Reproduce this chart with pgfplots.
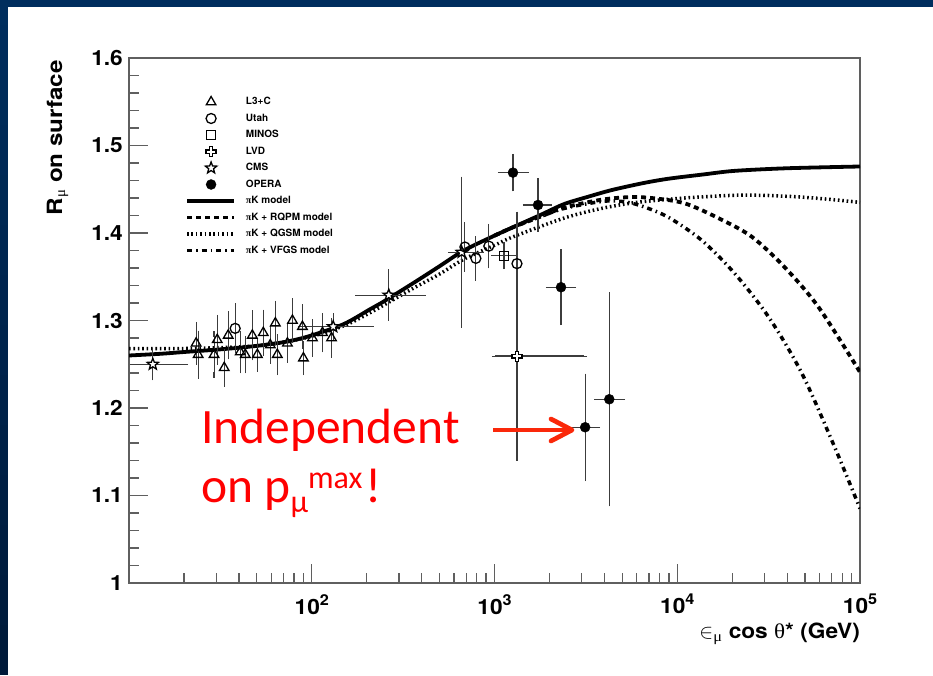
\documentclass[border=0pt]{standalone}
\usepackage{fontspec}
\usepackage{pgfplots}
\usepackage{pgfplotstable}
\pgfplotsset{compat=1.18}

\setmainfont{TeX Gyre Heros}
\newfontfamily\rootbf[FakeStretch=1.08]{TeX Gyre Heros}
\newfontfamily\rootlab[FakeStretch=1.15]{TeX Gyre Heros}
\newfontfamily\greek{Liberation Serif}
\newfontfamily\greekw[FakeStretch=1.1]{Liberation Serif}
\newfontfamily\callout{Carlito}

\definecolor{slideblue}{RGB}{0,46,94}
\definecolor{slideblueD}{RGB}{0,26,58}
\definecolor{annot}{RGB}{255,0,0}
\definecolor{arrowred}{RGB}{250,40,10}
\definecolor{framegray}{RGB}{95,95,95}
\definecolor{errgray}{RGB}{60,60,60}

% open cross marker (LVD)
\pgfdeclareplotmark{ocross}{%
  \pgfpathmoveto{\pgfpoint{0.33\pgfplotmarksize}{\pgfplotmarksize}}%
  \pgfpathlineto{\pgfpoint{0.33\pgfplotmarksize}{0.33\pgfplotmarksize}}%
  \pgfpathlineto{\pgfpoint{\pgfplotmarksize}{0.33\pgfplotmarksize}}%
  \pgfpathlineto{\pgfpoint{\pgfplotmarksize}{-0.33\pgfplotmarksize}}%
  \pgfpathlineto{\pgfpoint{0.33\pgfplotmarksize}{-0.33\pgfplotmarksize}}%
  \pgfpathlineto{\pgfpoint{0.33\pgfplotmarksize}{-\pgfplotmarksize}}%
  \pgfpathlineto{\pgfpoint{-0.33\pgfplotmarksize}{-\pgfplotmarksize}}%
  \pgfpathlineto{\pgfpoint{-0.33\pgfplotmarksize}{-0.33\pgfplotmarksize}}%
  \pgfpathlineto{\pgfpoint{-\pgfplotmarksize}{-0.33\pgfplotmarksize}}%
  \pgfpathlineto{\pgfpoint{-\pgfplotmarksize}{0.33\pgfplotmarksize}}%
  \pgfpathlineto{\pgfpoint{-0.33\pgfplotmarksize}{0.33\pgfplotmarksize}}%
  \pgfpathlineto{\pgfpoint{-0.33\pgfplotmarksize}{\pgfplotmarksize}}%
  \pgfpathclose
  \pgfusepathqfillstroke
}
% open five-pointed star marker (CMS)
\pgfdeclareplotmark{ostar}{%
  \pgfpathmoveto{\pgfpointpolar{90}{\pgfplotmarksize}}%
  \pgfpathlineto{\pgfpointpolar{126}{0.42\pgfplotmarksize}}%
  \pgfpathlineto{\pgfpointpolar{162}{\pgfplotmarksize}}%
  \pgfpathlineto{\pgfpointpolar{198}{0.42\pgfplotmarksize}}%
  \pgfpathlineto{\pgfpointpolar{234}{\pgfplotmarksize}}%
  \pgfpathlineto{\pgfpointpolar{270}{0.42\pgfplotmarksize}}%
  \pgfpathlineto{\pgfpointpolar{306}{\pgfplotmarksize}}%
  \pgfpathlineto{\pgfpointpolar{342}{0.42\pgfplotmarksize}}%
  \pgfpathlineto{\pgfpointpolar{18}{\pgfplotmarksize}}%
  \pgfpathlineto{\pgfpointpolar{54}{0.42\pgfplotmarksize}}%
  \pgfpathclose
  \pgfusepathqfillstroke
}

% measurements: energy (GeV), charge ratio, errors
\pgfplotstableread{
E      R      ye
23.3   1.274  0.021
23.9   1.261  0.024
29.2   1.261  0.023
30.4   1.278  0.025
33.2   1.246  0.018
34.9   1.283  0.024
40.6   1.264  0.021
43.3   1.261  0.018
47.3   1.283  0.025
50.4   1.261  0.016
54.3   1.286  0.023
59.3   1.272  0.018
63.2   1.297  0.022
64.8   1.261  0.020
73.6   1.274  0.019
78.4   1.300  0.022
88.9   1.293  0.022
90.0   1.257  0.016
100.9  1.280  0.018
114.5  1.286  0.019
128.3  1.280  0.019
}\dataLthree

\pgfplotstableread{
E      R      ye
38.1   1.291  0.025
689    1.384  0.025
791    1.371  0.022
931    1.385  0.022
1327   1.365  0.056
}\dataUtah

\pgfplotstableread{
E      R      xm    xp    ye
1127   1.374  134   149   0.012
}\dataMinos

\pgfplotstableread{
E      R      xm    xp    ye
1327   1.259  322   1763  0.116
}\dataLvd

\pgfplotstableread{
E      R      xm    xp    ye
13.5   1.250  3.0   6.8   0.015
131    1.293  44    79    0.012
264    1.329  84    141   0.026
662    1.378  85    179   0.083
}\dataCms

\pgfplotstableread{
E      R      xm    xp    ye
1262   1.469  178   224   0.018
1730   1.432  244   256   0.027
2312   1.338  326   380   0.040
3133   1.178  404   515   0.058
4246   1.210  598   754   0.119
}\dataOpera

\begin{document}
\begin{tikzpicture}[x=1pt,y=1pt]
\useasboundingbox (0,0) rectangle (933,675);
\fill[white] (0,0) rectangle (933,675);
% slide frame: darkening strip on the left, band on top
\foreach \i in {0,...,26}{
  \pgfmathsetmacro{\mix}{100*\i/26}
  \fill[slideblue!\mix!slideblueD] (0,{25*\i}) rectangle (8,{25*\i+25.5});
}
\fill[slideblue] (0,668) rectangle (933,675);

\begin{axis}[
  at={(129pt,92pt)}, anchor=south west,
  scale only axis, width=731pt, height=525pt,
  xmode=log, xmin=10, xmax=100000, ymin=1, ymax=1.6,
  xtick={100,1000,10000,100000},
  xticklabels={10\raisebox{9pt}{\fontsize{15}{15}\selectfont 2},
               10\raisebox{9pt}{\fontsize{15}{15}\selectfont 3},
               10\raisebox{9pt}{\fontsize{15}{15}\selectfont 4},
               10\raisebox{9pt}{\fontsize{15}{15}\selectfont 5}},
  minor xtick={20,30,40,50,60,70,80,90,200,300,400,500,600,700,800,900,
               2000,3000,4000,5000,6000,7000,8000,9000,
               20000,30000,40000,50000,60000,70000,80000,90000},
  ytick={1,1.1,1.2,1.3,1.4,1.5,1.6},
  yticklabels={1,1.1,1.2,1.3,1.4,1.5,1.6},
  minor y tick num=4,
  tick align=inside, xtick pos=left, ytick pos=left,
  major tick length=19pt, minor tick length=10pt,
  axis line style={framegray, line width=1.3pt},
  tick style={framegray, line width=1.3pt},
  xticklabel style={font=\rootbf\bfseries\fontsize{21}{23}\selectfont, anchor=north, inner sep=0pt, yshift=-11pt},
  yticklabel style={font=\rootbf\bfseries\fontsize{21}{23}\selectfont, anchor=east, inner sep=0pt, xshift=-6pt},
  legend style={at={(rel axis cs:0.0766,0.928)}, anchor=north west, draw=none, fill=none,
    inner sep=0pt, font=\bfseries\fontsize{10}{12}\selectfont, row sep=4.5pt, column sep=10pt,
    nodes={inner sep=0pt, minimum height=12pt}},
  legend cell align=left,
  legimg/.style={legend image code/.code={\draw[mark repeat=2, mark phase=2, ##1] plot coordinates {(0pt,0pt) (24pt,0pt) (47pt,0pt)};}},
  mk/.style={mark options={solid, fill=white, draw=black, line width=1.3pt}},
  error bars/error bar style={line width=1.1pt, errgray},
  error bars/error mark options={line width=1.1pt, errgray, mark size=3pt},
]

% legend entries, in the order of the key
\addlegendimage{only marks, mark=triangle, mark size=5.5pt, mk, legimg}
\addlegendentry{L3+C}
\addlegendimage{only marks, mark=o, mark size=5pt, mk, legimg}
\addlegendentry{Utah}
\addlegendimage{only marks, mark=square, mark size=4.5pt, mk, legimg}
\addlegendentry{MINOS}
\addlegendimage{only marks, mark=ocross, mark size=5pt, mk, legimg}
\addlegendentry{LVD}
\addlegendimage{only marks, mark=ostar, mark size=6pt, mk, legimg}
\addlegendentry{CMS}
\addlegendimage{only marks, mark=*, mark size=5pt, mark options={fill=black, draw=black}, legimg}
\addlegendentry{OPERA}
\addlegendimage{black, line width=3.8pt, legimg}
\addlegendentry{{\greek π}K model}
\addlegendimage{black, line width=3.8pt, dash pattern=on 5pt off 4pt, legimg}
\addlegendentry{{\greek π}K + RQPM model}
\addlegendimage{black, line width=3.5pt, dash pattern=on 1.6pt off 2.8pt, legimg}
\addlegendentry{{\greek π}K + QGSM model}
\addlegendimage{black, line width=3.5pt, dash pattern=on 5pt off 4pt on 1.5pt off 4pt, legimg}
\addlegendentry{{\greek π}K + VFGS model}

% model curves
\addplot[forget plot, smooth, black, line width=3.8pt, dash pattern=on 5pt off 4pt] coordinates {
(1000,1.397) (1276,1.407) (1800,1.419) (2399,1.429) (3837,1.438) (5500,1.441)
(7211,1.440) (10940,1.434) (16790,1.417) (25470,1.396) (38640,1.361)
(59430,1.315) (100000,1.241)};
\addplot[forget plot, smooth, black, line width=3.5pt, dash pattern=on 5pt off 4pt on 1.5pt off 4pt] coordinates {
(1000,1.397) (1276,1.407) (1800,1.419) (2399,1.428) (3837,1.436) (5000,1.436)
(6353,1.431) (8933,1.418) (13550,1.392) (20560,1.354) (31620,1.304)
(47970,1.240) (72780,1.155) (100000,1.085)};
\addplot[forget plot, smooth, black, line width=3.5pt, dash pattern=on 1.6pt off 2.8pt] coordinates {
(10,1.268) (20,1.268) (31.6,1.269) (50,1.271) (73.6,1.276) (100,1.282)
(150,1.294) (209,1.309) (361,1.337) (500,1.353) (679,1.370) (1000,1.386)
(1276,1.396) (2399,1.417) (3837,1.428) (6000,1.435) (10940,1.440)
(20000,1.443) (30000,1.443) (48000,1.441) (72000,1.438) (100000,1.435)};
\addplot[forget plot, smooth, black, line width=3.8pt] coordinates {
(10,1.260) (15,1.262) (20,1.264) (31.6,1.267) (50,1.271) (73.6,1.276)
(100,1.283) (150,1.296) (209,1.313) (240,1.320) (361,1.343) (500,1.362)
(679,1.380) (1000,1.397) (1276,1.407) (1800,1.421) (2399,1.433) (3200,1.441)
(4365,1.449) (6500,1.457) (8933,1.462) (14000,1.467) (20560,1.471)
(40000,1.474) (100000,1.476)};

% measurements
\addplot[forget plot, only marks, mark=triangle, mark size=5.5pt, mk,
  error bars/.cd, y dir=both, y explicit]
  table[x=E, y=R, y error=ye] {\dataLthree};
\addplot[forget plot, only marks, mark=ostar, mark size=6pt, mk,
  error bars/.cd, x dir=both, x explicit, y dir=both, y explicit]
  table[x=E, y=R, x error minus=xm, x error plus=xp, y error=ye] {\dataCms};
\addplot[forget plot, only marks, mark=ocross, mark size=5pt, mk,
  error bars/.cd, x dir=both, x explicit, y dir=both, y explicit,
  error bar style={line width=2pt, errgray}]
  table[x=E, y=R, x error minus=xm, x error plus=xp, y error=ye] {\dataLvd};
\addplot[forget plot, only marks, mark=o, mark size=5pt, mk,
  error bars/.cd, y dir=both, y explicit]
  table[x=E, y=R, y error=ye] {\dataUtah};
\addplot[forget plot, only marks, mark=square, mark size=4.5pt, mk,
  error bars/.cd, x dir=both, x explicit, y dir=both, y explicit]
  table[x=E, y=R, x error minus=xm, x error plus=xp, y error=ye] {\dataMinos};
\addplot[forget plot, only marks, mark=*, mark size=5pt, mark options={fill=black, draw=black},
  error bars/.cd, x dir=both, x explicit, y dir=both, y explicit]
  table[x=E, y=R, x error minus=xm, x error plus=xp, y error=ye] {\dataOpera};
\end{axis}

% axis titles
\node[rotate=90, anchor=base east, inner sep=0pt, font=\rootlab\bfseries\fontsize{21}{23}\selectfont]
  at (62,615) {R\textsubscript{\greek\mdseries μ} on surface};
\node[anchor=base east, inner sep=0pt, font=\rootbf\bfseries\fontsize{21}{23}\selectfont]
  at (860,37) {$\in$\textsubscript{\greekw\mdseries μ} cos {\greekw\mdseries θ}* (GeV)};

% callout
\node[anchor=base west, inner sep=0pt, text=annot, font=\callout\fontsize{49.5}{58}\selectfont]
  at (201,232) {Independent};
\node[anchor=base west, inner sep=0pt, text=annot, font=\callout\fontsize{49.5}{58}\selectfont]
  at (201,173) {on p\raisebox{-10pt}{\fontsize{32}{32}\selectfont μ}\raisebox{14pt}{\fontsize{32}{32}\selectfont max}\hspace{3pt}!};
\draw[arrowred, line width=4.7pt] (493,245) -- (570,245);
\draw[arrowred, line width=4.7pt, line cap=round, line join=round] (551,256) -- (572,245) -- (551,234);

% keep the right and bottom margins of the slide white
\fill[white] (915,0) rectangle (933,667.9);
\fill[white] (8.1,0) rectangle (933,14);
\end{tikzpicture}
\end{document}
